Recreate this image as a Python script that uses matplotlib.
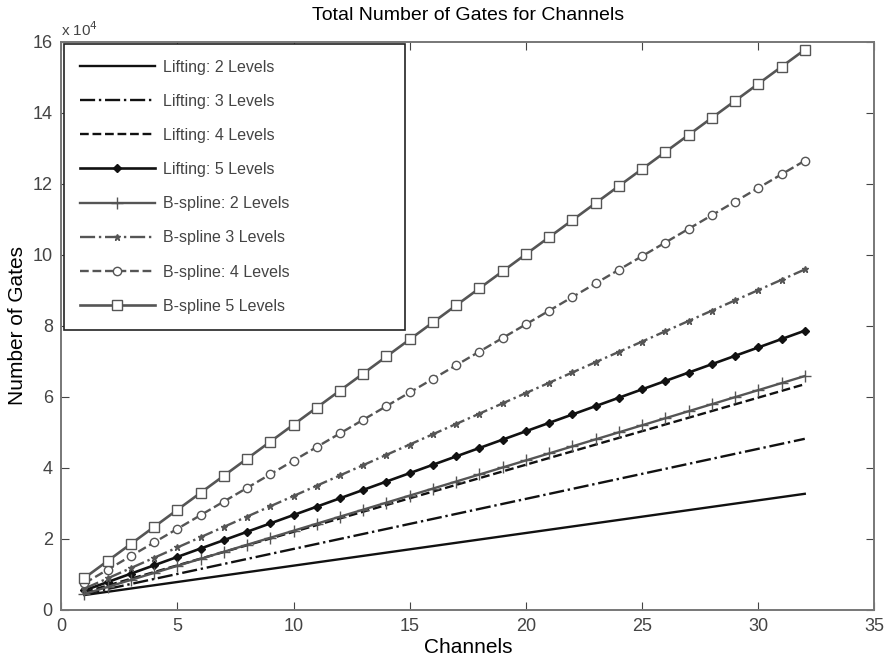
import matplotlib
matplotlib.use("Agg")
import matplotlib.pyplot as plt
from matplotlib.ticker import FixedLocator

plt.rcParams['font.family'] = ['Liberation Sans', 'DejaVu Sans']

# ---- data ----
channels = list(range(1, 33))

lifting_2 = [4200, 5120, 6040, 6960, 7880, 8800, 9720, 10640, 11560, 12480, 13400, 14320,
             15240, 16160, 17080, 18000, 18920, 19840, 20760, 21680, 22600, 23520, 24440,
             25360, 26280, 27200, 28120, 29040, 29960, 30880, 31800, 32720]
lifting_3 = [4500, 5910, 7320, 8730, 10140, 11550, 12960, 14370, 15780, 17190, 18600, 20010,
             21420, 22830, 24240, 25650, 27060, 28470, 29880, 31290, 32700, 34110, 35520,
             36930, 38340, 39750, 41160, 42570, 43980, 45390, 46800, 48210]
lifting_4 = [5000, 6890, 8780, 10670, 12560, 14450, 16340, 18230, 20120, 22010, 23900, 25790,
             27680, 29570, 31460, 33350, 35240, 37130, 39020, 40910, 42800, 44690, 46580,
             48470, 50360, 52250, 54140, 56030, 57920, 59810, 61700, 63590]
lifting_5 = [5500, 7860, 10220, 12580, 14940, 17300, 19660, 22020, 24380, 26740, 29100, 31460,
             33820, 36180, 38540, 40900, 43260, 45620, 47980, 50340, 52700, 55060, 57420,
             59780, 62140, 64500, 66860, 69220, 71580, 73940, 76300, 78660]
bspline_2 = [4500, 6480, 8460, 10440, 12420, 14400, 16380, 18360, 20340, 22320, 24300, 26280,
             28260, 30240, 32220, 34200, 36180, 38160, 40140, 42120, 44100, 46080, 48060,
             50040, 52020, 54000, 55980, 57960, 59940, 61920, 63900, 65880]
bspline_3 = [6000, 8900, 11800, 14700, 17600, 20500, 23400, 26300, 29200, 32100, 35000, 37900,
             40800, 43700, 46600, 49500, 52400, 55300, 58200, 61100, 64000, 66900, 69800,
             72700, 75600, 78500, 81400, 84300, 87200, 90100, 93000, 95900]
bspline_4 = [7500, 11340, 15180, 19020, 22860, 26700, 30540, 34380, 38220, 42060, 45900, 49740,
             53580, 57420, 61260, 65100, 68940, 72780, 76620, 80460, 84300, 88140, 91980,
             95820, 99660, 103500, 107340, 111180, 115020, 118860, 122700, 126540]
bspline_5 = [9000, 13800, 18600, 23400, 28200, 33000, 37800, 42600, 47400, 52200, 57000, 61800,
             66600, 71400, 76200, 81000, 85800, 90600, 95400, 100200, 105000, 109800, 114600,
             119400, 124200, 129000, 133800, 138600, 143400, 148200, 153000, 157800]

x_ticks = [0, 5, 10, 15, 20, 25, 30, 35]
y_ticks = [0, 2, 4, 6, 8, 10, 12, 14, 16]

# ---- figure ----
fig = plt.figure(figsize=(8.86, 6.59), dpi=100)
ax = fig.add_axes([0.069, 0.0744, 0.918, 0.862])

blk = '#111111'
gry = '#555555'
scale = 1e4

series = [
    (lifting_2, 'Lifting: 2 Levels', dict(color=blk, ls='-', lw=1.7)),
    (lifting_3, 'Lifting: 3 Levels', dict(color=blk, ls='-.', lw=1.7)),
    (lifting_4, 'Lifting: 4 Levels', dict(color=blk, ls='--', lw=1.7)),
    (lifting_5, 'Lifting: 5 Levels', dict(color=blk, ls='-', lw=1.9, marker='D', ms=4)),
    (bspline_2, 'B-spline: 2 Levels', dict(color=gry, ls='-', lw=1.7, marker='+', ms=8)),
    (bspline_3, 'B-spline 3 Levels', dict(color=gry, ls='-.', lw=1.7, marker='*', ms=5)),
    (bspline_4, 'B-spline: 4 Levels', dict(color=gry, ls='--', lw=1.7, marker='o', ms=6,
                                          mfc='white')),
    (bspline_5, 'B-spline 5 Levels', dict(color=gry, ls='-', lw=1.9, marker='s', ms=6.5,
                                         mfc='white')),
]

for vals, lab, st in series:
    ax.plot(channels, [v / scale for v in vals], label=lab, **st)

ax.set_xlim(0, 35)
ax.set_ylim(0, 16)
ax.xaxis.set_major_locator(FixedLocator(x_ticks))
ax.yaxis.set_major_locator(FixedLocator(y_ticks))
ax.tick_params(direction='in', top=True, right=True, labelsize=13, colors='#444444',
               length=6, pad=6)
for s in ax.spines.values():
    s.set_color('#777777')
    s.set_linewidth(1.4)

ax.text(0.0, 1.005, r'x 10$^4$', transform=ax.transAxes, fontsize=11, color='#444444',
        ha='left', va='bottom')

ax.set_title('Total Number of Gates for Channels', fontsize=14, pad=16)
ax.set_xlabel('Channels', fontsize=15, labelpad=2)
ax.set_ylabel('Number of Gates', fontsize=15, labelpad=4)

leg = ax.legend(loc='upper left', bbox_to_anchor=(0.003, 0.3, 0.42, 0.697), mode='expand',
                fontsize=11.5, handlelength=4.7, labelspacing=1.2, borderaxespad=0,
                fancybox=False, framealpha=1, borderpad=1.0, handletextpad=0.5)
leg.get_frame().set_edgecolor('#222222')
leg.get_frame().set_linewidth(1.2)
for t in leg.get_texts():
    t.set_color('#444444')

fig.savefig('out.png', dpi=100)
